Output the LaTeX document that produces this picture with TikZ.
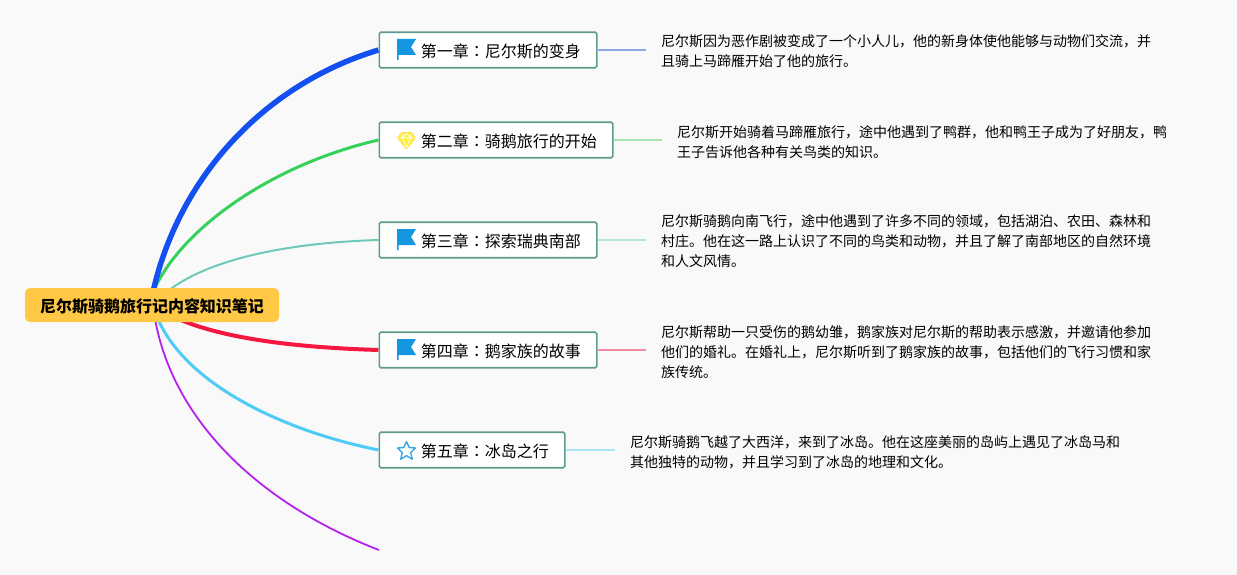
\documentclass[tikz,border=0pt]{standalone}
\usepackage{fontspec}
\setmainfont{Noto Sans CJK SC}
\newfontfamily\twfont{Noto Sans CJK TC}
\newcommand{\chcolon}{{\twfont ：}}
\newcommand{\lowered}[1]{\raisebox{-1.5pt}[\height][\depth]{#1}}
\pgfdeclarelayer{branches}
\pgfsetlayers{branches,main}
\definecolor{bgc}{HTML}{F9F9F9}
\definecolor{rootc}{HTML}{FFC845}
\definecolor{edgec}{HTML}{5F9C8E}
\definecolor{cblue}{HTML}{1450F0}
\definecolor{cgreen}{HTML}{35D15B}
\definecolor{cteal}{HTML}{6FC9BA}
\definecolor{cred}{HTML}{F5173F}
\definecolor{csky}{HTML}{4FCBF7}
\definecolor{cpurple}{HTML}{B522EE}
\definecolor{sblue}{HTML}{8FA8EA}
\definecolor{sgreen}{HTML}{A6E6B6}
\definecolor{steal}{HTML}{B4E4DC}
\definecolor{sred}{HTML}{F08CA0}
\definecolor{ssky}{HTML}{ABE3F7}
\definecolor{iconblue}{HTML}{1496E0}
\definecolor{iconstar}{HTML}{3AA8E0}
\definecolor{iconyellow}{HTML}{FFEE44}
\tikzset{
  x=1pt,y=-1pt,
  rootbox/.style={fill=rootc,rounded corners=5pt,minimum width=254pt,minimum height=34pt,inner sep=0pt,font=\fontsize{16}{20}\selectfont\bfseries},
  chapter/.style={draw=edgec,line width=1.6pt,fill=white,rounded corners=1.5pt,anchor=west,minimum height=35.5pt,inner ysep=0pt,inner xsep=0pt,align=left,font=\fontsize{16}{20}\selectfont},
  note/.style={anchor=west,align=left,inner sep=0pt,font=\fontsize{14}{20}\selectfont},
  stub/.style={line width=1.6pt,shorten >=15pt},
  branch/.style={line cap=butt},
  flag/.style={fill=iconblue,draw=none},
  gem/.style={fill=iconyellow,draw=iconyellow!85!orange,line width=.6pt,line join=round},
  gemline/.style={draw=white,line width=.6pt},
}
\begin{document}
\begin{tikzpicture}
\begin{pgfonlayer}{branches}
\useasboundingbox[fill=bgc] (0,0) rectangle (1237,575);
\end{pgfonlayer}
\coordinate (hubup) at (153,292);
\coordinate (hubdown) at (153,305);
\coordinate (tail) at (379,550);
\node[chapter] (ch1) at (378.5,50) {\hspace*{41.5pt}\lowered{第一章\chcolon 尼尔斯的变身}\hspace*{16pt}};
\node[chapter] (ch2) at (378.5,140) {\hspace*{41.5pt}\lowered{第二章\chcolon 骑鹅旅行的开始}\hspace*{16pt}};
\node[chapter] (ch3) at (378.5,240) {\hspace*{41.5pt}\lowered{第三章\chcolon 探索瑞典南部}\hspace*{16pt}};
\node[chapter] (ch4) at (378.5,350) {\hspace*{41.5pt}\lowered{第四章\chcolon 鹅家族的故事}\hspace*{16pt}};
\node[chapter] (ch5) at (378.5,450) {\hspace*{41.5pt}\lowered{第五章\chcolon 冰岛之行}\hspace*{16pt}};
\begin{pgfonlayer}{branches}
\draw[branch,cpurple,line width=1.8pt] (hubdown) .. controls (165,410) and (250,500) .. (tail);
\draw[branch,csky,line width=3pt] (hubdown) .. controls (172,375) and (270,428) .. (ch5.west);
\draw[branch,cred,line width=4pt] (hubdown) .. controls (195,335) and (280,347) .. (ch4.west);
\draw[branch,cteal,line width=2pt] (hubdown) .. controls (190,262) and (280,243) .. (ch3.west);
\draw[branch,cgreen,line width=3pt] (hubup) .. controls (180,230) and (270,165) .. (ch2.west);
\draw[branch,cblue,line width=5.5pt] (hubup) .. controls (178,180) and (262,85) .. (ch1.west);
\end{pgfonlayer}
\node[rootbox] (root) at (152,305) {\lowered{尼尔斯骑鹅旅行记内容知识笔记}};
% notes
\node[note] (n1) at (661,51) {尼尔斯因为恶作剧被变成了一个小人儿，他的新身体使他能够与动物们交流，并\\且骑上马蹄雁开始了他的旅行。};
\node[note] (n2) at (677,142) {尼尔斯开始骑着马蹄雁旅行，途中他遇到了鸭群，他和鸭王子成为了好朋友，鸭\\王子告诉他各种有关鸟类的知识。};
\node[note] (n3) at (661,241) {尼尔斯骑鹅向南飞行，途中他遇到了许多不同的领域，包括湖泊、农田、森林和\\村庄。他在这一路上认识了不同的鸟类和动物，并且了解了南部地区的自然环境\\和人文风情。};
\node[note] (n4) at (661,352) {尼尔斯帮助一只受伤的鹅幼雏，鹅家族对尼尔斯的帮助表示感激，并邀请他参加\\他们的婚礼。在婚礼上，尼尔斯听到了鹅家族的故事，包括他们的飞行习惯和家\\族传统。};
\node[note] (n5) at (630,452) {尼尔斯骑鹅飞越了大西洋，来到了冰岛。他在这座美丽的岛屿上遇见了冰岛马和\\其他独特的动物，并且学习到了冰岛的地理和文化。};
% stubs
\draw[stub,sblue] (ch1.east) -- (ch1.east -| n1.west);
\draw[stub,sgreen] (ch2.east) -- (ch2.east -| n2.west);
\draw[stub,steal] (ch3.east) -- (ch3.east -| n3.west);
\draw[stub,sred] (ch4.east) -- (ch4.east -| n4.west);
\draw[stub,ssky] (ch5.east) -- (ch5.east -| n5.west);
% icons
\foreach \y in {50,240,350}{
  \fill[flag] (397,{\y-11}) -- (416,{\y-11}) -- (411,{\y-3}) -- (416,{\y+5}) -- (398.5,{\y+5}) -- (398.5,{\y+10}) -- (397,{\y+10}) -- cycle;
}
\draw[gem] (401.5,132.5) -- (411.5,132.5) -- (415.5,138) -- (406.5,149) -- (397.5,138) -- cycle;
\draw[gemline] (398.5,138) -- (414.5,138) (402.5,138) -- (406.5,147.5) -- (410.5,138) (402,133.5) -- (402.5,138) -- (406.5,133.5) -- (410.5,138) -- (411,133.5);
\draw[iconstar,line width=1.4pt,line join=round] (406.5,441.5) -- (409.2,447.5) -- (415.5,448) -- (410.7,452.5) -- (412.3,459.2) -- (406.5,455.7) -- (400.7,459.2) -- (402.3,452.5) -- (397.5,448) -- (403.8,447.5) -- cycle;
\end{tikzpicture}
\end{document}
